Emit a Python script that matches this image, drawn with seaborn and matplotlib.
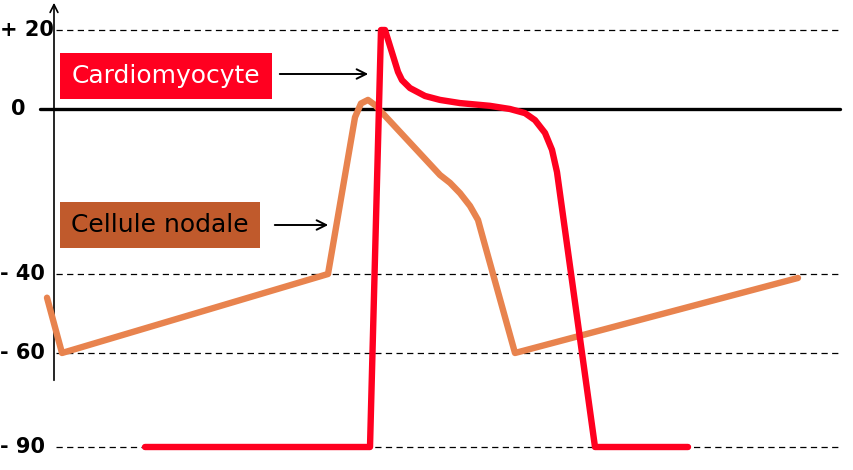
import numpy as np
import pandas as pd
import matplotlib
matplotlib.use("Agg")
import matplotlib.pyplot as plt
import seaborn as sns

# ---- data (time in arbitrary units, potential in mV) ----
tick_values = [20, 0, -40, -60, -90]
tick_labels = ["+ 20", "0", "- 40", "- 60", "- 90"]

cardio_t = [145, 370, 381, 385, 398, 402, 410, 425, 440, 460, 490, 510, 525, 535, 545, 552, 557, 595, 688]
cardio_v = [-90, -90, 20, 20, 9.4, 7.3, 5.3, 3.3, 2.3, 1.5, 0.8, 0.0, -1.0, -2.7, -5.8, -9.9, -15.3, -90, -90]

nodal_t = [47, 62, 328, 355, 361, 368, 375, 440, 450, 460, 470, 478, 483, 515, 798]
nodal_v = [-46, -60, -40, -2.0, 1.4, 2.3, 1.0, -16, -17.9, -20.4, -23.5, -26.9, -31.3, -60, -41]

cardio_label = "Cardiomyocyte"
nodal_label = "Cellule nodale"

RED = "#FF0020"
ORANGE = "#E8834E"
BROWN = "#C05A2C"

# ---- piecewise y scale (as drawn in the reference) ----
knot_v = np.array([-97.3, -90, -60, -40, 0, 20, 27.6])
knot_p = np.array([0, 23, 117, 196, 361, 440, 470], dtype=float)

def fwd(v):
    return np.interp(v, knot_v, knot_p)

def inv(p):
    return np.interp(p, knot_p, knot_v)

sns.set_style("white")
plt.rcParams["font.family"] = ["DejaVu Sans"]

fig = plt.figure(figsize=(8.54, 4.70), dpi=100)
ax = fig.add_axes([0, 0, 1, 1])
ax.set_yscale("function", functions=(fwd, inv))
ax.set_xlim(0, 854)
ax.set_ylim(-97.3, 27.6)
ax.axis("off")

# reference lines
for v in tick_values:
    if v == 0:
        ax.plot([40, 840], [0, 0], color="black", lw=2.4, zorder=1)
    else:
        ax.plot([56, 840], [v, v], color="black", lw=0.9, ls=(0, (5, 3.5)), zorder=1)

# tick labels
for v, lab in zip(tick_values, tick_labels):
    x = 11 if lab == "0" else 0
    ax.text(x, v, lab, ha="left", va="center", fontsize=15, fontweight="bold", color="black")

# vertical axis with arrow
ax.annotate("", xy=(54, 27.6), xytext=(54, -69.6),
            arrowprops=dict(arrowstyle="->", lw=1.2, color="black", mutation_scale=14))

# curves
df_c = pd.DataFrame({"t": cardio_t, "v": cardio_v})
df_n = pd.DataFrame({"t": nodal_t, "v": nodal_v})
sns.lineplot(data=df_n, x="t", y="v", sort=False, estimator=None, color=ORANGE, lw=4.6, ax=ax, zorder=3)
sns.lineplot(data=df_c, x="t", y="v", sort=False, estimator=None, color=RED, lw=4.6, ax=ax, zorder=4)
ax.axis("off")

# labels with arrows
ax.text(166, inv(470 - 76), cardio_label, ha="center", va="center", fontsize=18, color="white",
        bbox=dict(boxstyle="square,pad=0.45", fc=RED, ec="none"))
ax.annotate("", xy=(371, inv(470 - 74)), xytext=(277, inv(470 - 74)),
            arrowprops=dict(arrowstyle="->", lw=1.4, color="black", mutation_scale=17))

ax.text(160, inv(470 - 225), nodal_label, ha="center", va="center", fontsize=18, color="black",
        bbox=dict(boxstyle="square,pad=0.45", fc=BROWN, ec="none"))
ax.annotate("", xy=(331, inv(470 - 225)), xytext=(272, inv(470 - 225)),
            arrowprops=dict(arrowstyle="->", lw=1.4, color="black", mutation_scale=17))

fig.savefig("out.png", dpi=100)
